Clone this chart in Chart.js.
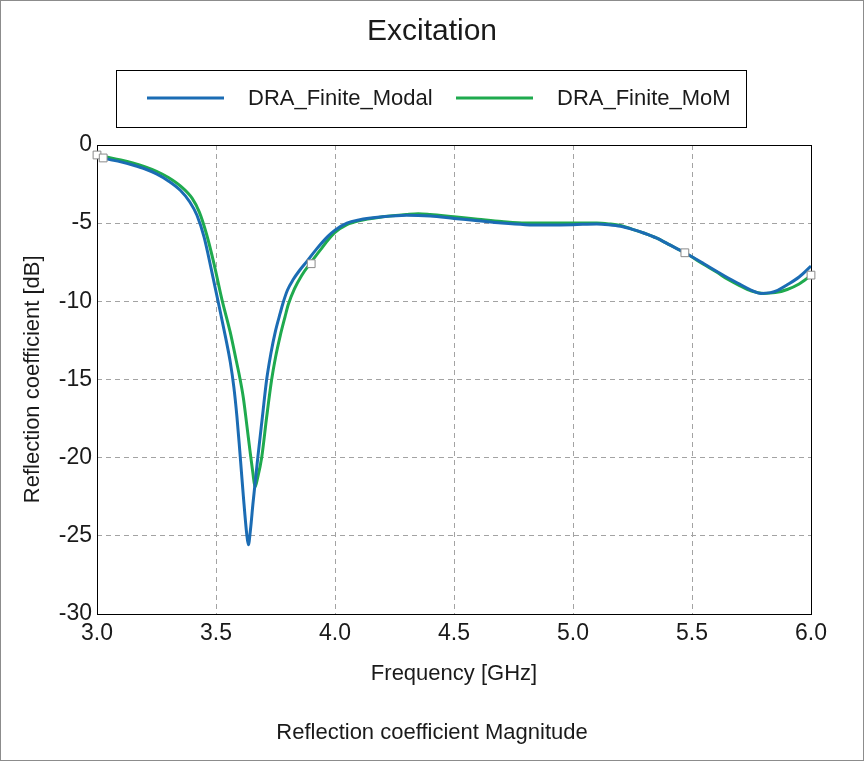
<!DOCTYPE html>
<html>
<head>
<meta charset="utf-8">
<script src="https://cdn.jsdelivr.net/npm/chart.js@4"></script>
<style>
	body { margin: 0; background: #fff; }
	#wrap { width: 864px; height: 761px; position: relative; }
</style>
</head>
<body>
<div id="wrap"><canvas id="data"></canvas></div>
<script>
// values
const modalFreq = [3.00, 3.05, 3.10, 3.15, 3.20, 3.25, 3.30, 3.35, 3.39, 3.42, 3.45, 3.48, 3.51, 3.54, 3.56, 3.575, 3.588, 3.60, 3.615, 3.629, 3.636, 3.645, 3.655, 3.675, 3.695, 3.713, 3.73, 3.75, 3.77, 3.782, 3.80, 3.825, 3.85, 3.882, 3.923, 3.97, 4.00, 4.05, 4.10, 4.20, 4.30, 4.40, 4.50, 4.60, 4.70, 4.80, 4.90, 5.00, 5.10, 5.15, 5.20, 5.25, 5.30, 5.35, 5.40, 5.47, 5.55, 5.605, 5.65, 5.70, 5.75, 5.79, 5.83, 5.86, 5.90, 5.95, 6.00];
const modalDb = [-0.75, -0.92, -1.08, -1.28, -1.52, -1.85, -2.3, -2.9, -3.65, -4.5, -5.9, -7.95, -10.1, -12.3, -13.9, -15.5, -17.4, -19.6, -22.5, -24.9, -25.6, -24.6, -23.0, -20.1, -17.4, -15.0, -13.4, -11.9, -10.75, -10.1, -9.3, -8.6, -8.05, -7.45, -6.65, -5.85, -5.45, -5.0, -4.8, -4.6, -4.5, -4.55, -4.7, -4.85, -5.0, -5.1, -5.12, -5.1, -5.05, -5.1, -5.2, -5.4, -5.65, -5.95, -6.35, -6.9, -7.6, -8.1, -8.5, -8.9, -9.3, -9.5, -9.45, -9.3, -8.95, -8.45, -7.75];

const momFreq = [3.00, 3.05, 3.10, 3.15, 3.20, 3.25, 3.30, 3.35, 3.40, 3.43, 3.46, 3.49, 3.525, 3.56, 3.585, 3.60, 3.615, 3.63, 3.643, 3.655, 3.664, 3.675, 3.692, 3.713, 3.734, 3.75, 3.77, 3.79, 3.804, 3.83, 3.86, 3.90, 3.937, 3.97, 4.00, 4.05, 4.10, 4.20, 4.30, 4.35, 4.40, 4.50, 4.60, 4.70, 4.80, 4.90, 5.00, 5.10, 5.15, 5.20, 5.25, 5.30, 5.35, 5.40, 5.47, 5.55, 5.605, 5.65, 5.70, 5.75, 5.80, 5.85, 5.90, 5.95, 6.00];
const momDb = [-0.65, -0.8, -0.96, -1.15, -1.38, -1.68, -2.08, -2.62, -3.42, -4.3, -5.7, -7.5, -9.9, -12.0, -13.8, -14.9, -16.2, -18.0, -19.6, -21.0, -21.9, -21.3, -20.0, -17.4, -15.0, -13.6, -12.2, -11.0, -10.2, -9.2, -8.35, -7.5, -6.75, -6.1, -5.6, -5.1, -4.85, -4.6, -4.45, -4.4, -4.45, -4.6, -4.75, -4.9, -5.0, -5.0, -5.0, -5.0, -5.05, -5.15, -5.4, -5.65, -5.95, -6.35, -6.9, -7.65, -8.15, -8.6, -9.0, -9.35, -9.5, -9.45, -9.25, -8.9, -8.35];

const markerFreq = [3.0, 3.026, 3.9, 5.47, 6.0];
const markerDb = [-0.64, -0.83, -7.6, -6.9, -8.33];

const seriesNames = ["DRA_Finite_Modal", "DRA_Finite_MoM"];
const seriesColors = ["#1b6cb4", "#1faa4e"];

const xTicks = [3.0, 3.5, 4.0, 4.5, 5.0, 5.5, 6.0];
const yTicks = [0, -5, -10, -15, -20, -25, -30];

const toPoints = (xs, ys) => xs.map((x, i) => ({ x: x, y: ys[i] }));

Chart.defaults.font.family = "'Liberation Sans', Arial, sans-serif";
Chart.defaults.color = "#1a1a1a";

const edgeFree = (lo, hi) => (ctx) => {
	const v = ctx.tick && ctx.tick.value;
	return (v === lo || v === hi) ? "rgba(0,0,0,0)" : "#a3a3a3";
};

// white page, outer frame, plot frame and the boxed legend
const decor = {
	id: "decor",
	beforeDraw(chart) {
		const c = chart.ctx;
		c.save();
		c.fillStyle = "#fff";
		c.fillRect(0, 0, chart.width, chart.height);
		c.restore();
	},
	beforeDatasetsDraw(chart) {
		const c = chart.ctx;
		const a = chart.chartArea;
		c.save();
		c.strokeStyle = "#000";
		c.lineWidth = 1;
		c.strokeRect(Math.round(a.left) + 0.5, Math.round(a.top) + 0.5,
			Math.round(a.right - a.left), Math.round(a.bottom - a.top));
		c.restore();
	},
	afterDraw(chart) {
		const c = chart.ctx;
		c.save();
		c.strokeStyle = "#8c8c8c";
		c.lineWidth = 1;
		c.strokeRect(0.5, 0.5, chart.width - 1, chart.height - 1);

		c.strokeStyle = "#000";
		c.strokeRect(116.5, 70.5, 630, 57);
		const items = [
			{ x0: 147, x1: 224, tx: 248 },
			{ x0: 456, x1: 533, tx: 557 }
		];
		c.font = "22px 'Liberation Sans', Arial, sans-serif";
		c.textBaseline = "middle";
		c.fillStyle = "#1a1a1a";
		items.forEach((it, i) => {
			c.strokeStyle = seriesColors[i];
			c.lineWidth = 3;
			c.beginPath();
			c.moveTo(it.x0, 98);
			c.lineTo(it.x1, 98);
			c.stroke();
			c.fillText(seriesNames[i], it.tx, 99);
		});
		c.restore();
	}
};

new Chart(document.getElementById("data"), {
	type: "line",
	plugins: [decor],
	data: {
		datasets: [
			{
				type: "scatter",
				label: "markers",
				data: toPoints(markerFreq, markerDb),
				pointStyle: "rect",
				pointRadius: 5.5,
				pointBackgroundColor: "#fff",
				pointBorderColor: "#8a8a8a",
				pointBorderWidth: 1,
				showLine: false,
				clip: false,
				order: 0
			},
			{
				label: seriesNames[0],
				data: toPoints(modalFreq, modalDb),
				borderColor: seriesColors[0],
				borderWidth: 3,
				borderJoinStyle: "round",
				pointRadius: 0,
				cubicInterpolationMode: "monotone",
				order: 1
			},
			{
				label: seriesNames[1],
				data: toPoints(momFreq, momDb),
				borderColor: seriesColors[1],
				borderWidth: 3,
				borderJoinStyle: "round",
				pointRadius: 0,
				cubicInterpolationMode: "monotone",
				order: 2
			}
		]
	},
	options: {
		responsive: true,
		maintainAspectRatio: false,
		animation: false,
		layout: { padding: { left: 0, right: 0, top: 0, bottom: 15 } },
		scales: {
			x: {
				type: "linear",
				min: 3,
				max: 6,
				afterBuildTicks: (axis) => { axis.ticks = xTicks.map((v) => ({ value: v })); },
				grid: { color: edgeFree(3, 6), drawTicks: false, lineWidth: 1 },
				border: { display: false, dash: [5, 4] },
				ticks: {
					padding: 6,
					font: { size: 23 },
					callback: (v) => Number(v).toFixed(1)
				},
				title: {
					display: true,
					text: "Frequency [GHz]",
					font: { size: 22 },
					padding: { top: 8, bottom: 0 }
				}
			},
			y: {
				min: -30,
				max: 0,
				afterBuildTicks: (axis) => { axis.ticks = yTicks.map((v) => ({ value: v })); },
				afterFit: (axis) => { axis.width = 97; },
				grid: { color: edgeFree(-30, 0), drawTicks: false, lineWidth: 1 },
				border: { display: false, dash: [5, 4] },
				ticks: {
					padding: 5,
					font: { size: 23 },
					callback: (v) => String(v)
				},
				title: {
					display: true,
					text: "Reflection coefficient [dB]",
					font: { size: 22 },
					padding: { top: 20, bottom: 26 }
				}
			},
			yRight: {
				position: "right",
				min: -30,
				max: 0,
				afterFit: (axis) => { axis.width = 53; },
				grid: { display: false, drawTicks: false },
				border: { display: false },
				ticks: { display: false }
			}
		},
		plugins: {
			legend: { display: false },
			tooltip: { enabled: false },
			title: {
				display: true,
				text: "Excitation",
				font: { size: 30, weight: "normal" },
				padding: { top: 14, bottom: 95 }
			},
			subtitle: {
				display: true,
				position: "bottom",
				text: "Reflection coefficient Magnitude",
				font: { size: 22 },
				padding: { top: 32, bottom: 0 }
			}
		}
	}
});
</script>
</body>
</html>
